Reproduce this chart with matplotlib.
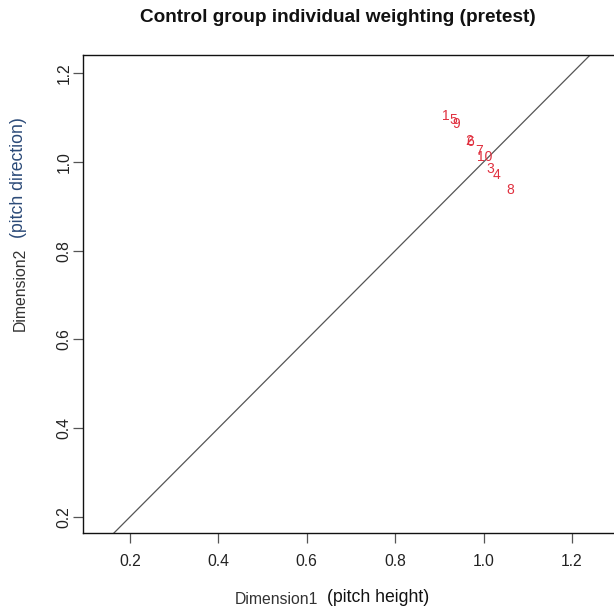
import matplotlib
matplotlib.use("Agg")
import matplotlib.pyplot as plt

plt.rcParams['font.family'] = ['Liberation Sans', 'DejaVu Sans']

# Individual weights of each subject on the two dimensions
subjects = ["1", "5", "9", "2", "6", "7", "10", "3", "4", "8"]
dim1 = [0.914, 0.931, 0.937, 0.967, 0.969, 0.991, 1.002, 1.016, 1.029, 1.061]
dim2 = [1.103, 1.094, 1.086, 1.047, 1.045, 1.024, 1.012, 0.984, 0.971, 0.936]

x_ticks = [0.2, 0.4, 0.6, 0.8, 1.0, 1.2]
y_ticks = [0.2, 0.4, 0.6, 0.8, 1.0, 1.2]
xlim = (0.094, 1.295)
ylim = (0.164, 1.241)

W, H = 614, 613
fig = plt.figure(figsize=(W / 100, H / 100), dpi=100)
ax = fig.add_axes([83 / W, (H - 533) / H, 1 - 83 / W, 478 / H])
ax.set_xlim(*xlim)
ax.set_ylim(*ylim)

# reference diagonal y = x
ax.plot([0, 2], [0, 2], color='#555555', lw=0.9, zorder=1)

for s, x, y in zip(subjects, dim1, dim2):
    ax.text(x, y, s, color='#E0303F', fontsize=10, ha='center', va='center', zorder=3)

ax.spines['right'].set_visible(False)
for sp in ['left', 'top', 'bottom']:
    ax.spines[sp].set_linewidth(1.0)
    ax.spines[sp].set_color('#111111')

ax.set_xticks(x_ticks)
ax.set_xticklabels([f"{v:.1f}" for v in x_ticks])
ax.set_yticks(y_ticks)
ax.set_yticklabels([f"{v:.1f}" for v in y_ticks], rotation=90, va='center')
ax.tick_params(axis='both', length=7.2, width=0.9, color='#555555',
               labelsize=11.3, labelcolor='#222222')
ax.tick_params(axis='x', pad=8)
ax.tick_params(axis='y', pad=1)

fig.text(338 / W, 1 - 18 / H, "Control group individual weighting (pretest)",
         ha='center', va='center', fontsize=13.7, fontweight='bold', color='#111111')

# axis titles
fig.text(235 / W, 1 - 600 / H, "Dimension1", ha='left', va='center',
         fontsize=11.3, color='#333333')
fig.text(327 / W, 1 - 598 / H, "(pitch height)", ha='left', va='center',
         fontsize=12.7, color='#111111')
fig.text(20 / W, 1 - 289 / H, "Dimension2", ha='center', va='center', rotation=90,
         fontsize=11.3, color='#333333')
fig.text(19 / W, 1 - 178 / H, "(pitch direction)", ha='center', va='center', rotation=90,
         fontsize=12.7, color='#2B4A78')

fig.savefig("out.png", dpi=100)
